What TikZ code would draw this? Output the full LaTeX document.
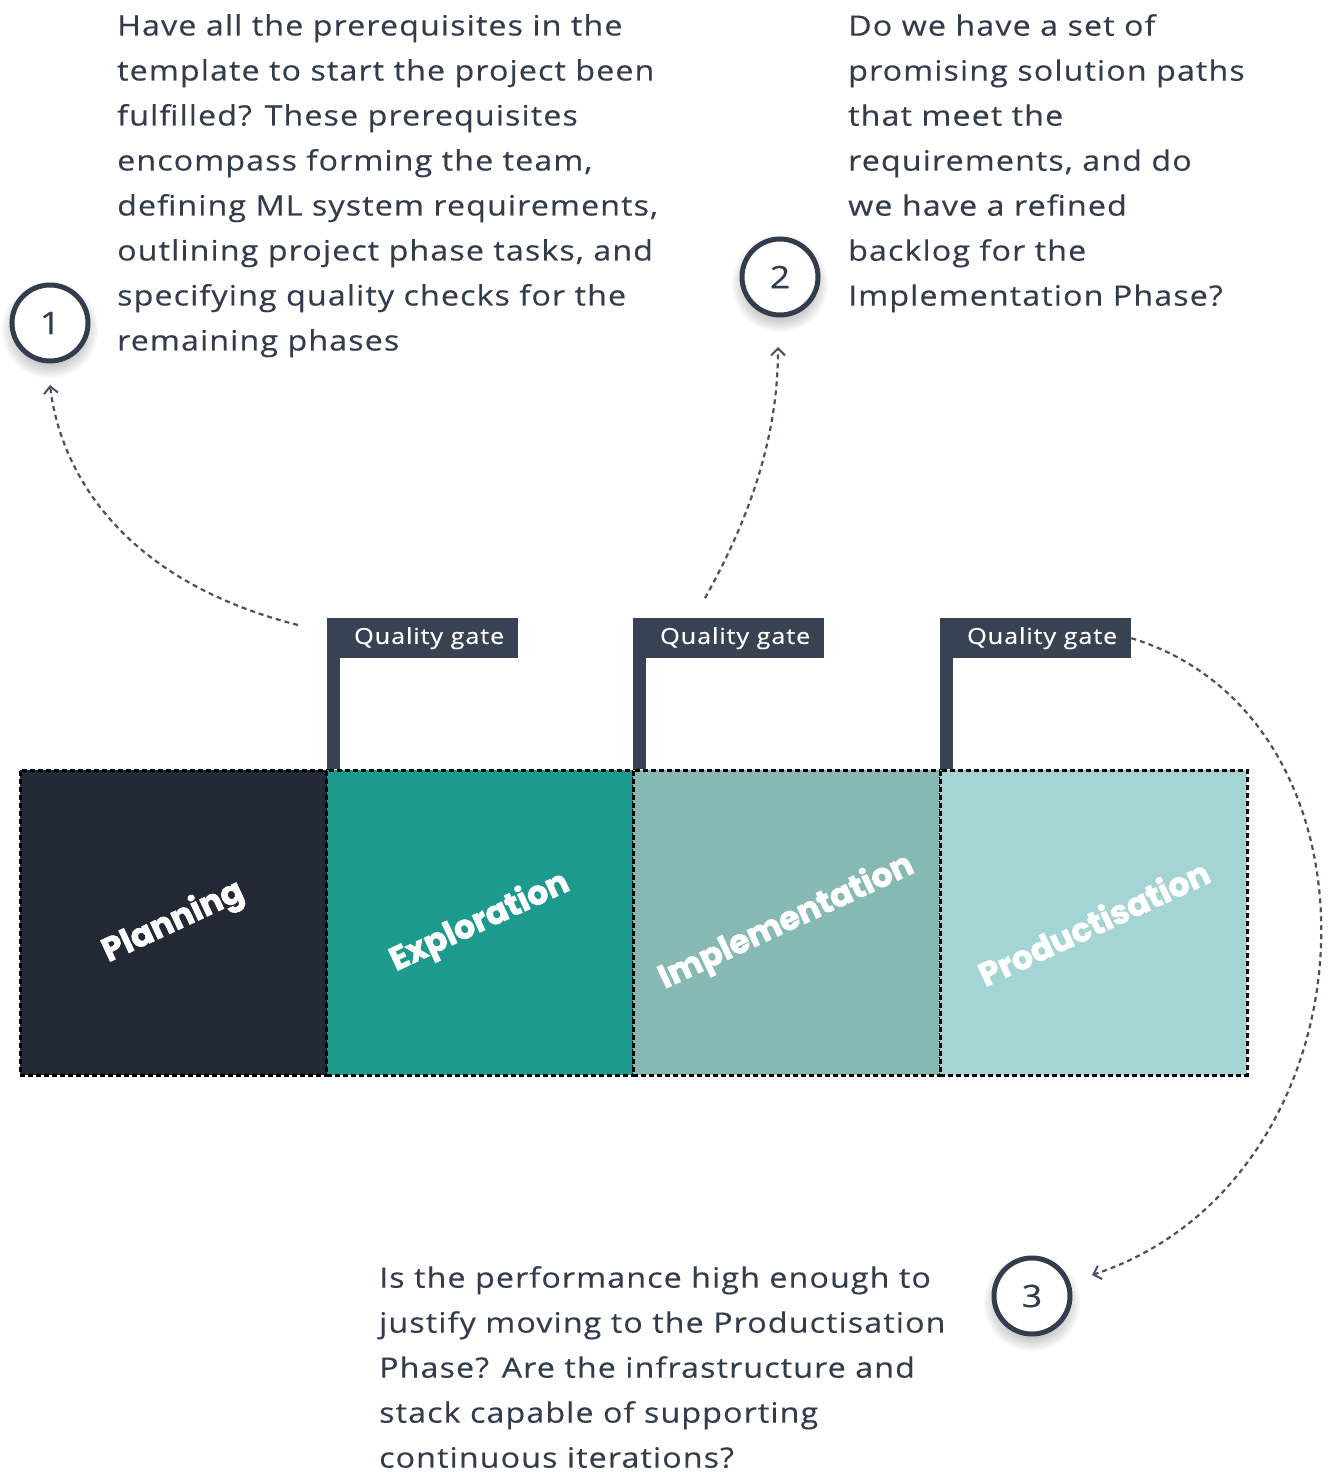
\documentclass[tikz,border=0pt]{standalone}
\usepackage{fontspec}
\setmainfont{Open Sans}[FakeStretch=1.15, LetterSpace=4, FakeBold=0.4]
\newfontfamily\phasefont{Poppins}[FakeBold=2]
\usetikzlibrary{arrows.meta}

\definecolor{ink}{HTML}{333C4D}
\definecolor{gatec}{HTML}{394253}
\definecolor{linkc}{HTML}{4A5162}
\definecolor{planc}{HTML}{222834}
\definecolor{explc}{HTML}{1C9A8E}
\definecolor{implc}{HTML}{86B8B4}
\definecolor{prodc}{HTML}{A4D4D3}

\tikzset{
  para/.style={anchor=north west, align=left, inner sep=0pt, text=ink,
    font=\fontsize{28}{45}\selectfont},
  phase/.style={draw=black, line width=3pt, dash pattern=on 5pt off 3pt,
    minimum width=307pt, minimum height=305pt, inner sep=0pt},
  phaselabel/.style={text=white, rotate=25, inner sep=0pt,
    font=\phasefont\bfseries\fontsize{33}{33}\selectfont},
  gate/.style={anchor=north west, fill=gatec, text=white, inner sep=0pt,
    minimum width=191pt, minimum height=40pt,
    font=\fontsize{22}{22}\selectfont},
  numcirc/.style={circle, draw=ink, line width=5pt, fill=white,
    minimum size=76pt, inner sep=0pt, text=ink,
    font=\fontsize{31}{31}\selectfont},
  link/.style={draw=linkc, line width=2.2pt, dash pattern=on 5pt off 4pt,
    -{Straight Barb[length=7pt,width=14pt,line width=2pt]}},
}

\begin{document}
\begin{tikzpicture}[x=1pt, y=-1pt]
\useasboundingbox (0,0) rectangle (1334,1472);

% question texts
\node[para] (t1) at (117,14) {Have all the prerequisites in the\\
template to start the project been\\
fulfilled? These prerequisites\\
encompass forming the team,\\
defining ML system requirements,\\
outlining project phase tasks, and\\
specifying quality checks for the\\
remaining phases};

\node[para] (t2) at (848,14) {Do we have a set of\\
promising solution paths\\
that meet the\\
requirements, and do\\
we have a refined\\
backlog for the\\
Implementation Phase?};

\node[para] (t3) at (379,1266) {Is the performance high enough to\\
justify moving to the Productisation\\
Phase? Are the infrastructure and\\
stack capable of supporting\\
continuous iterations?};

% soft shadows under the numbered circles
\foreach \cx/\cy in {50/323, 780/277, 1032/1296}{
  \foreach \r in {36,38,...,48}{
    \fill[black, opacity=0.03] (\cx,\cy+7) circle (\r pt);
  }
}

% numbered circles
\node[numcirc] (c1) at (50,323) {1};
\node[numcirc] (c2) at (780,277) {2};
\node[numcirc] (c3) at (1032,1296) {3};

% phase blocks
\node[phase, fill=planc] (p1) at (173.5,922.5) {};
\node[phase, fill=explc] (p2) at (480,922.5) {};
\node[phase, fill=implc] (p3) at (786.5,922.5) {};
\node[phase, fill=prodc] (p4) at (1093.5,922.5) {};
\node[phaselabel] (l1) at (p1.center) {Planning};
\node[phaselabel] (l2) at (p2.center) {Exploration};
\node[phaselabel] (l3) at (p3.center) {Implementation};
\node[phaselabel] (l4) at (p4.center) {Productisation};

% quality gate flags
\foreach \i/\gx in {1/327, 2/633, 3/940}{
  \node[gate] (q\i) at (\gx,618) {\hspace*{13pt}Quality gate};
  \fill[gatec] (q\i.north west) rectangle ++(13,151);
}

% connectors from the gates to the questions
\coordinate (s1) at (298,625);
\coordinate (e1) at (50,385);
\coordinate (s2) at (705,598);
\coordinate (e2) at (778,347);
\coordinate (e3) at (1092,1275);
\draw[link] (s1) .. controls (120,580) and (60,470) .. (e1);
\draw[link] (s2) .. controls (760,500) and (778,420) .. (e2);
\draw[link] (q3.east) .. controls (1400,720) and (1380,1180) .. (e3);
\end{tikzpicture}
\end{document}
